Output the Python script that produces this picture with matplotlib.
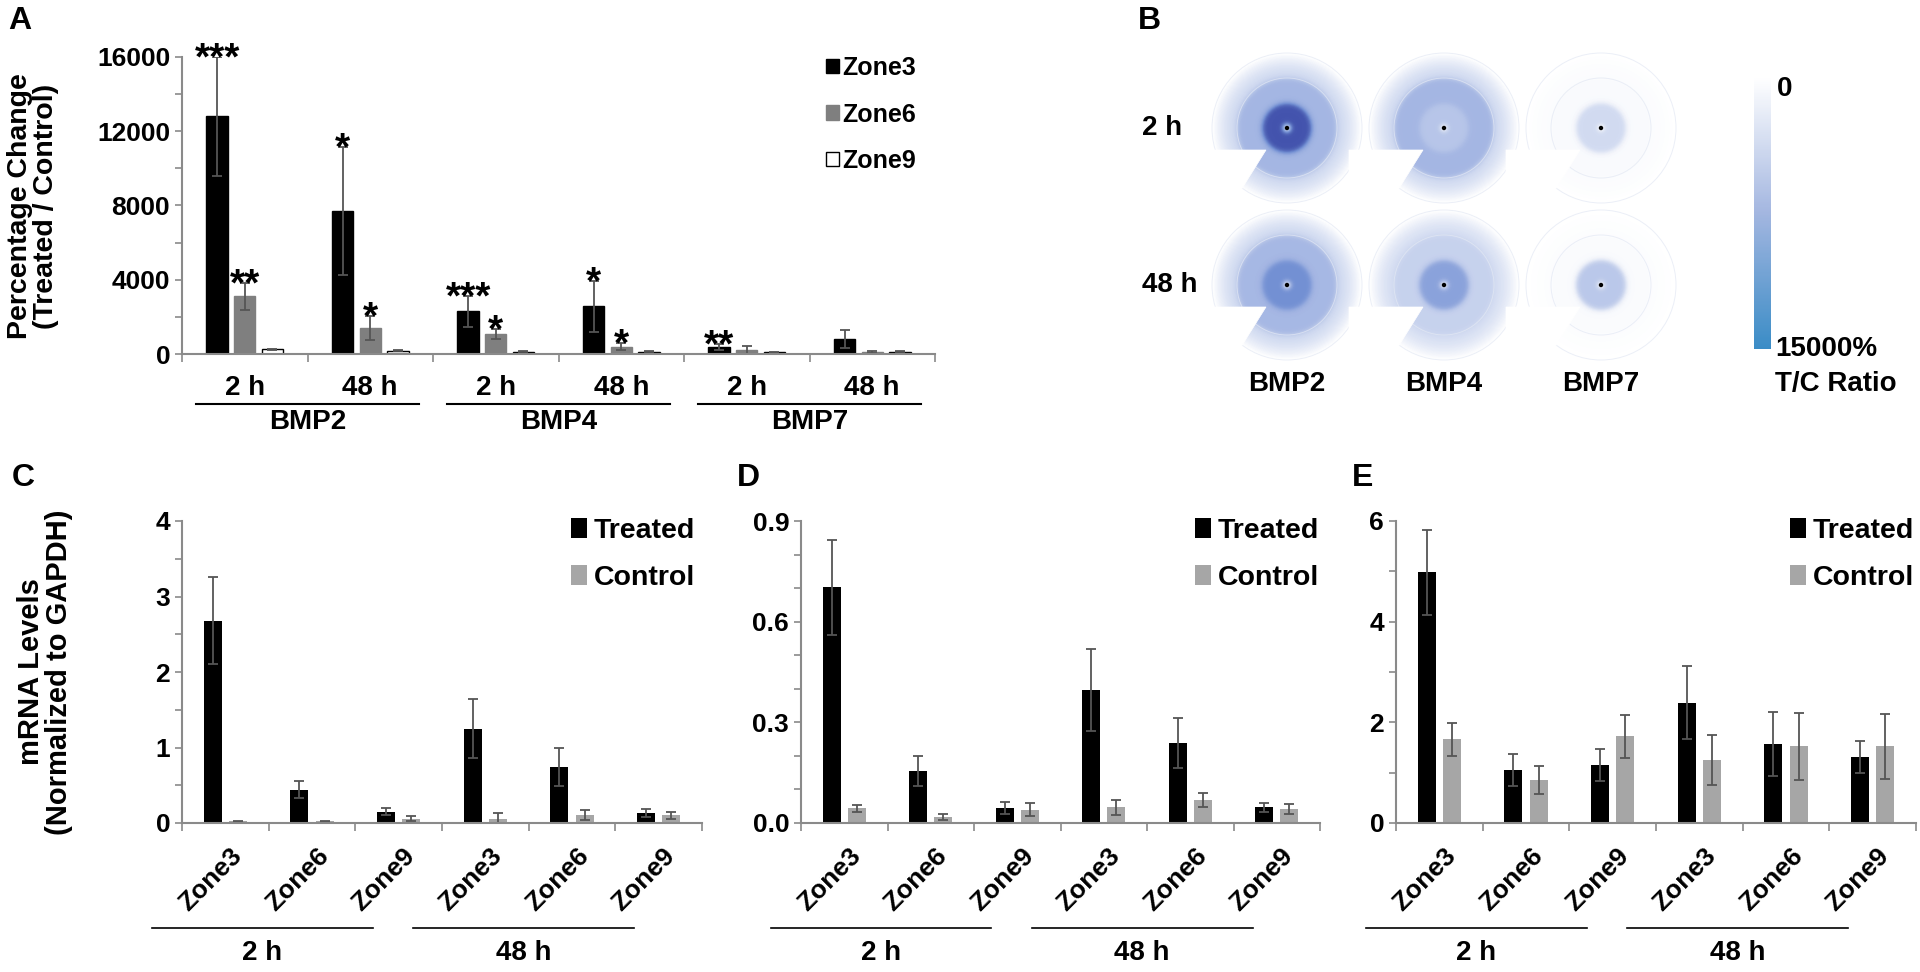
import numpy as np
import matplotlib
matplotlib.use("Agg")
import matplotlib.pyplot as plt
from matplotlib.patches import Patch, Circle, Polygon
from matplotlib.colors import LinearSegmentedColormap, Normalize
from matplotlib.cm import ScalarMappable
from matplotlib.ticker import MultipleLocator, FormatStrFormatter
from matplotlib.transforms import blended_transform_factory

plt.rcParams["font.family"] = ["Liberation Sans", "DejaVu Sans"]
plt.rcParams["font.weight"] = "bold"

# ---------- DATA ----------
# Panel A: percentage change (treated / control)
a_times = ["2 h", "48 h", "2 h", "48 h", "2 h", "48 h"]
a_genes = ["BMP2", "BMP4", "BMP7"]
zone3 = [12800, 7700, 2300, 2580, 370, 820]
zone3_err = [3200, 3450, 830, 1370, 170, 480]
zone6 = [3100, 1380, 1080, 400, 190, 110]
zone6_err = [750, 650, 280, 180, 220, 50]
zone9 = [250, 170, 120, 120, 90, 120]
zone9_err = [40, 30, 20, 20, 20, 20]
zone3_stars = ["***", "*", "***", "*", "**", ""]
zone6_stars = ["**", "*", "*", "*", "", ""]

# Panel B: T/C ratio (%) of zone3 / zone6 / zone9 rings, per gene
b_genes = ["BMP2", "BMP4", "BMP7"]
b_times = ["2 h", "48 h"]
ring_2h = [[14250, 6750, 3300], [5250, 6750, 3200], [3200, 450, 300]]
ring_48h = [[10500, 6600, 3300], [8700, 4000, 2900], [5000, 400, 200]]
ratio_max = 15000

# Panels C-E: mRNA levels normalized to GAPDH
zone_labels = ["Zone3", "Zone6", "Zone9", "Zone3", "Zone6", "Zone9"]
c_treated = [2.68, 0.44, 0.15, 1.25, 0.74, 0.13]
c_treated_err = [0.58, 0.11, 0.05, 0.39, 0.25, 0.05]
c_control = [0.02, 0.02, 0.056, 0.056, 0.11, 0.10]
c_control_err = [0.01, 0.01, 0.035, 0.075, 0.065, 0.05]

d_treated = [0.702, 0.156, 0.045, 0.396, 0.238, 0.047]
d_treated_err = [0.142, 0.045, 0.018, 0.122, 0.075, 0.013]
d_control = [0.044, 0.018, 0.040, 0.047, 0.068, 0.042]
d_control_err = [0.011, 0.008, 0.020, 0.023, 0.021, 0.015]

e_treated = [4.98, 1.06, 1.15, 2.39, 1.57, 1.31]
e_treated_err = [0.84, 0.32, 0.32, 0.73, 0.63, 0.31]
e_control = [1.66, 0.855, 1.72, 1.255, 1.52, 1.52]
e_control_err = [0.33, 0.28, 0.43, 0.50, 0.67, 0.65]
# --------------------------

W, H = 1920, 972
fig = plt.figure(figsize=(W / 100, H / 100), dpi=100)
fig.patch.set_facecolor("white")

AXIS_GRAY = "#8a8a8a"
ERR_GRAY = "#555555"
TICK_FS = 19
LABEL_FS = 20


def fy(py):
    return 1 - py / H


def px_axes(x0, y0, x1, y1):
    return fig.add_axes([x0 / W, 1 - y1 / H, (x1 - x0) / W, (y1 - y0) / H])


def style_axes(ax):
    for s in ["top", "right"]:
        ax.spines[s].set_visible(False)
    for s in ["left", "bottom"]:
        ax.spines[s].set_color(AXIS_GRAY)
        ax.spines[s].set_linewidth(1.5)
    ax.tick_params(axis="y", which="both", direction="out", length=5,
                   width=1.2, color=AXIS_GRAY, labelsize=TICK_FS)
    ax.tick_params(axis="x", which="major", direction="out", length=6,
                   width=1.2, color=AXIS_GRAY, labelbottom=False)
    ax.set_xticks(np.arange(0, 7))
    ax.set_xlim(0, 6)


# ---------- Panel A ----------
ax_a = px_axes(182, 57, 935, 354)
style_axes(ax_a)
ax_a.set_ylim(0, 16000)
ax_a.yaxis.set_major_locator(MultipleLocator(4000))
ax_a.yaxis.set_minor_locator(MultipleLocator(2000))

xc = np.arange(6) + 0.5
bw = 0.17
for off, vals, errs, fc, ec in [(-0.22, zone3, zone3_err, "black", "black"),
                                (0.0, zone6, zone6_err, "#7f7f7f", "#7f7f7f"),
                                (0.22, zone9, zone9_err, "white", "black")]:
    ax_a.bar(xc + off, vals, width=bw, color=fc, edgecolor=ec, linewidth=1.0)
    ax_a.errorbar(xc + off, vals, yerr=errs, fmt="none", ecolor=ERR_GRAY,
                  elinewidth=1.3, capsize=3.5, capthick=1.3)

for off, vals, errs, stars in [(-0.22, zone3, zone3_err, zone3_stars),
                               (0.0, zone6, zone6_err, zone6_stars)]:
    for i, s in enumerate(stars):
        if s:
            ax_a.annotate(s, xy=(xc[i] + off, vals[i] + errs[i]), xytext=(0, -9),
                          textcoords="offset points", ha="center", va="baseline",
                          fontsize=28, fontweight="bold")

ax_a.set_xticks(xc, minor=True)
ax_a.set_xticklabels(a_times, minor=True)
ax_a.tick_params(axis="x", which="minor", length=0, pad=15, labelsize=LABEL_FS)

tr_a = blended_transform_factory(ax_a.transData, fig.transFigure)
for k, g in enumerate(a_genes):
    ax_a.plot([2 * k + 0.11, 2 * k + 1.89], [fy(404), fy(404)], color="black",
              lw=1.5, transform=tr_a, clip_on=False)
    ax_a.text(2 * k + 1, fy(422), g, transform=tr_a, ha="center", va="center",
              fontsize=LABEL_FS, fontweight="bold")

fig.text(33 / W, fy(206), "Percentage Change\n(Treated / Control)", rotation=90,
         ha="center", va="center", fontsize=20.5, fontweight="bold",
         multialignment="center", linespacing=1.0)
fig.text(8 / W, fy(6), "A", ha="left", va="top", fontsize=23, fontweight="bold")

ax_a.legend(handles=[Patch(fc="black", ec="black"),
                     Patch(fc="#7f7f7f", ec="#7f7f7f"),
                     Patch(fc="white", ec="black")],
            labels=["Zone3", "Zone6", "Zone9"], loc="upper left",
            bbox_to_anchor=(826 / W, fy(56)), bbox_transform=fig.transFigure,
            frameon=False, fontsize=18, handlelength=0.5, handleheight=0.5,
            handletextpad=0.15, labelspacing=0.9, borderaxespad=0, borderpad=0)

# ---------- Panel B ----------
bx0, by0, bx1, by1 = 1100, 0, 1920, 420
ax_b = px_axes(bx0, by0, bx1, by1)
ax_b.set_xlim(bx0, bx1)
ax_b.set_ylim(by1, by0)
ax_b.axis("off")

cmap_b = LinearSegmentedColormap.from_list(
    "rings", [(0.0, "#ffffff"), (0.2, "#d3dcf1"), (0.45, "#a4b6e3"),
              (0.7, "#7390d3"), (1.0, "#3a48a6")])
norm_b = Normalize(0, ratio_max)

col_x = [1287, 1444, 1601]
row_y = [128, 285]
R1, R2, R3 = 25, 50, 75


def ring_profile(r, z3, z6, z9):
    s1 = 1 / (1 + np.exp(-(r - R1) / 1.5))
    s2 = 1 / (1 + np.exp(-(r - R2) / 1.5))
    base = z3 * (1 - s1) + z6 * (s1 - s2) + z9 * s2
    fade = np.where(r > R2, 1 - np.clip((r - R2) / (R3 - R2), 0, 1) ** 1.6, 1.0)
    glow = 1 - 0.8 * np.exp(-(r / 4.5) ** 2)
    return base * fade * glow


for row, rings in enumerate([ring_2h, ring_48h]):
    cy = row_y[row]
    for col, (z3, z6, z9) in enumerate(rings):
        cx = col_x[col]
        for r in np.arange(R3, 0.4, -0.75):
            v = ring_profile(r, z3, z6, z9)
            ax_b.add_patch(Circle((cx, cy), r, color=cmap_b(norm_b(v)), lw=0))
        for r in (R2, R3):
            ax_b.add_patch(Circle((cx, cy), r, fill=False, ec="#e3e8f4",
                                  lw=0.7, alpha=0.7))
        # gap cut out of the zone6 / zone9 rings
        vx, vy = cx - 21, cy + 22
        d = np.array([-0.53, 0.848])
        ax_b.add_patch(Polygon([(vx, vy), (cx - 95, vy), (cx - 95, vy + 95),
                                (vx + 100 * d[0], vy + 100 * d[1])],
                               closed=True, fc="white", ec="white", lw=0.5))
        ax_b.add_patch(Circle((cx, cy), 2.2, color="black", lw=0))

for row, t in enumerate(b_times):
    ax_b.text(1142, row_y[row], t, ha="left", va="center", fontsize=LABEL_FS,
              fontweight="bold")
for col, g in enumerate(b_genes):
    ax_b.text(col_x[col], 384, g, ha="center", va="center", fontsize=LABEL_FS,
              fontweight="bold")
fig.text(1138 / W, fy(6), "B", ha="left", va="top", fontsize=23, fontweight="bold")

cmap_cb = LinearSegmentedColormap.from_list(
    "cb", ["#ffffff", "#a3b6e0", "#3a8cc6"])
cax = px_axes(1754, 77, 1771, 349)
cb = fig.colorbar(ScalarMappable(norm=Normalize(0, ratio_max), cmap=cmap_cb),
                  cax=cax, orientation="vertical")
cax.invert_yaxis()
cb.outline.set_visible(False)
cax.set_yticks([])
fig.text(1777 / W, fy(89), "0", ha="left", va="center", fontsize=LABEL_FS,
         fontweight="bold")
fig.text(1775 / W, fy(349), f"{ratio_max}%", ha="left", va="center",
         fontsize=LABEL_FS, fontweight="bold")
fig.text(1775 / W, fy(384), "T/C Ratio", ha="left", va="center",
         fontsize=LABEL_FS, fontweight="bold")


# ---------- Panels C, D, E ----------
def mrna_panel(box, letter, letter_x, treated, terr, control, cerr, ymax,
               major, minor, fmt, leg_x):
    ax = px_axes(*box)
    style_axes(ax)
    ax.set_ylim(0, ymax)
    ax.yaxis.set_major_locator(MultipleLocator(major))
    ax.yaxis.set_minor_locator(MultipleLocator(minor))
    ax.yaxis.set_major_formatter(FormatStrFormatter(fmt))
    x = np.arange(6) + 0.5
    w = 0.21
    ax.bar(x - 0.146, treated, width=w, color="black", label="Treated")
    ax.bar(x + 0.146, control, width=w, color="#a6a6a6", label="Control")
    ax.errorbar(x - 0.146, treated, yerr=terr, fmt="none", ecolor=ERR_GRAY,
                elinewidth=1.3, capsize=3.5, capthick=1.3)
    ax.errorbar(x + 0.146, control, yerr=cerr, fmt="none", ecolor=ERR_GRAY,
                elinewidth=1.3, capsize=3.5, capthick=1.3)
    ax.set_xticks(x + 0.05, minor=True)
    ax.set_xticklabels(zone_labels, minor=True, rotation=45, ha="right",
                       va="top", rotation_mode="anchor")
    ax.tick_params(axis="x", which="minor", length=0, pad=15, labelsize=19)

    tr = blended_transform_factory(ax.transData, fig.transFigure)
    for x0, x1, lab in [(-0.35, 2.2, "2 h"), (2.67, 5.22, "48 h")]:
        ax.plot([x0, x1], [fy(928), fy(928)], color="black", lw=1.2,
                transform=tr, clip_on=False)
        ax.text((x0 + x1) / 2, fy(953), lab, transform=tr, ha="center",
                va="center", fontsize=LABEL_FS, fontweight="bold")

    ax.legend(loc="upper left", bbox_to_anchor=(leg_x / W, fy(518)),
              bbox_transform=fig.transFigure, frameon=False, fontsize=20.5,
              handlelength=0.55, handleheight=0.7, handletextpad=0.25,
              labelspacing=0.75, borderaxespad=0, borderpad=0)
    fig.text(letter_x / W, fy(463), letter, ha="left", va="top", fontsize=23,
             fontweight="bold")
    return ax


mrna_panel((182, 521, 702, 823), "C", 12, c_treated, c_treated_err,
           c_control, c_control_err, 4, 1, 0.5, "%d", 571)
mrna_panel((801, 521, 1320, 823), "D", 737, d_treated, d_treated_err,
           d_control, d_control_err, 0.9, 0.3, 0.1, "%.1f", 1195)
mrna_panel((1396, 521, 1916, 823), "E", 1352, e_treated, e_treated_err,
           e_control, e_control_err, 6, 2, 1, "%d", 1790)

fig.text(45 / W, fy(672), "mRNA Levels\n(Normalized to GAPDH)", rotation=90,
         ha="center", va="center", fontsize=21, fontweight="bold",
         multialignment="center", linespacing=1.0)

fig.savefig("out.png", dpi=100, facecolor="white")
